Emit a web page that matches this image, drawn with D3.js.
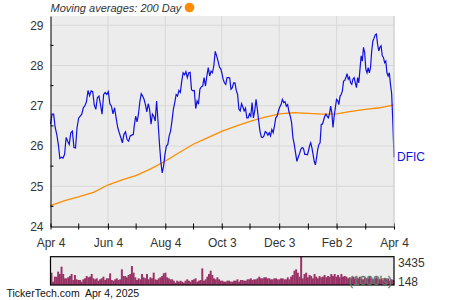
<!DOCTYPE html>
<html>
<head>
<meta charset="utf-8">
<script src="https://cdn.jsdelivr.net/npm/d3@7"></script>
<style>
  body { margin: 0; background: #fff; }
  svg { display: block; font-family: "Liberation Sans", Arial, sans-serif; }
</style>
</head>
<body>
<div id="chart"></div>
<script>
// DFIC daily closes, one array per quarter
const q2_2024 = [26.54, 26.79, 26.79, 26.46, 26.29, 26.04, 25.69, 25.72, 25.70, 25.79,
  26.21, 26.12, 26.04, 26.33, 26.37, 25.96, 25.95, 26.46, 26.69, 26.74,
  26.79, 26.95, 27.0, 27.1, 27.38, 27.25, 27.37, 27.35, 27.02, 26.91,
  27.2, 27.24, 27.03, 26.79, 27.28, 27.33, 27.28, 27.35, 27.05, 26.99,
  26.8, 26.95, 26.7, 26.46, 26.33, 26.21, 26.08, 26.29, 26.35, 26.16,
  26.12, 26.25, 26.27, 26.29];
const q3_2024 = [26.5, 26.74, 26.6, 26.79, 27.1, 27.3, 27.24, 27.16, 27.03, 26.85,
  27.05, 26.91, 26.54, 26.79, 26.74, 26.62, 27.12, 26.62, 26.08, 25.62,
  25.33, 25.5, 25.79, 26.0, 26.04, 26.25, 26.37, 26.62, 26.91, 27.08,
  27.28, 27.24, 27.38, 27.33, 27.61, 27.82, 27.77, 27.85, 27.7, 27.82,
  27.83, 27.4, 27.37, 27.38, 26.93, 27.12, 27.04, 27.41, 27.47, 27.49,
  27.7, 27.49, 27.74, 27.95, 27.74, 27.86, 27.82, 28.0, 28.35, 28.24,
  28.11, 27.96, 27.91];
const q4_2024 = [27.82, 27.66, 27.57, 27.53, 27.7, 27.7, 27.69, 27.41, 27.45,
  27.57, 27.57, 27.38, 27.28, 26.91, 26.87, 27.05, 26.97, 26.87, 26.94,
  26.7, 26.7, 26.8, 26.74, 27.08, 26.7, 26.87, 27.16, 26.91, 26.62,
  26.37, 26.22, 26.21, 26.25, 26.36, 26.33, 26.27, 26.33, 26.25, 26.41,
  26.33, 26.5, 26.7, 26.74, 26.87, 26.97, 27.03, 27.16, 27.08, 27.1,
  26.99, 27.03, 26.85, 26.74, 26.58, 26.21, 26.04, 25.83, 25.62, 25.72,
  25.81, 25.92, 25.96, 25.94, 25.79, 25.79, 25.78];
const q1_2025 = [25.87, 26.0, 26.08, 25.96, 25.79, 25.62, 25.53, 25.71, 25.92, 26.04,
  26.08, 26.54, 26.54, 26.64, 26.74, 26.79, 26.74, 26.7, 26.79, 26.99,
  26.83, 26.46, 26.74, 26.95, 27.16, 27.13, 27.03, 27.24, 27.28, 27.37,
  27.61, 27.63, 27.7, 27.8, 27.66, 27.71, 27.57, 27.53, 27.66, 27.7,
  27.57, 27.45, 27.7, 27.57, 27.91, 28.24, 28.11, 28.45, 28.32, 27.91,
  27.82, 27.95, 27.82, 27.95, 28.36, 28.61, 28.68, 28.76, 28.78, 28.53,
  28.36, 28.45, 28.49, 28.24, 28.2, 28.07, 28.11, 27.82, 27.74, 27.82,
  27.53, 27.3, 26.6, 25.72];
const quarterSpans = [["2024-04-04", "2024-07-01"], ["2024-07-02", "2024-10-02"],
  ["2024-10-03", "2025-01-02"], ["2025-01-03", "2025-04-04"]];

// 200 day moving average, read about every 15 days
const ma200 = [24.52, 24.64, 24.74, 24.85, 25.03, 25.16, 25.27, 25.43, 25.62, 25.84,
  26.05, 26.21, 26.37, 26.5, 26.62, 26.72, 26.8, 26.83, 26.81, 26.79,
  26.8, 26.86, 26.91, 26.95, 27.02];

// volume in 1000's
const volume = [1580, 535, 1115, 1115, 1700, 1425, 2275, 1425, 920, 920,
  1040, 1190, 1425, 730, 1310, 805, 730, 730, 535, 805,
  920, 1190, 1040, 1115, 1425, 920, 805, 920, 650, 805,
  920, 1115, 730, 920, 920, 1500, 730, 650, 805, 920,
  730, 805, 1965, 1190, 1190, 1040, 1310, 1425, 2355, 1580,
  1040, 730, 920, 805, 1425, 1040, 920, 1425, 805, 1040,
  920, 1580, 805, 730, 920, 1040, 1190, 1500, 1580, 1040,
  920, 805, 805, 650, 420, 650, 535, 650, 535, 420,
  650, 805, 650, 535, 730, 805, 920, 535, 650, 730,
  2080, 650, 805, 1115, 1425, 1810, 1310, 920, 805, 1040,
  805,
  650, 650, 535, 535, 650, 650, 535, 535, 650, 650,
  805, 535, 730, 730, 650, 650, 805, 805, 920, 730,
  805, 805, 920, 1115, 920, 920, 1040, 1040, 920, 920,
  805, 805, 920, 920, 805, 805, 920, 920, 805, 805,
  1040, 805, 1115, 1310, 1810, 1965, 1580, 1115, 3435, 920,
  1425, 1580, 1040, 1310, 1190, 920, 1425, 1115, 920, 1190,
  1040, 1115, 1310, 1040, 1190, 1115, 1425, 1190, 1425, 1115,
  1310, 1040, 1425, 1115, 1190, 1115, 920, 1040, 920, 1115,
  920, 1040, 920, 1115, 920, 805, 1040, 920, 920, 1115,
  920, 805, 920, 1040, 920, 805, 920, 730, 920, 805,
  920, 650, 805, 730];

const majorTicks = ["2024-04-04", "2024-06-04", "2024-08-04", "2024-10-03", "2024-12-03", "2025-02-02", "2025-04-04"];
const tickLabels = ["Apr 4", "Jun 4", "Aug 4", "Oct 3", "Dec 3", "Feb 2", "Apr 4"];
const minorTicks = ["2024-05-04", "2024-07-04", "2024-09-03", "2024-11-02", "2025-01-03", "2025-03-05"];
const priceTicks = [24, 25, 26, 27, 28, 29];
const halfTicks = [24.5, 25.5, 26.5, 27.5, 28.5];
const volLabels = [3435, 148];

const width = 450, height = 300;
const margin = {left: 50.5, right: 56, top: 16, bottom: 73.5};
const parse = d3.timeParse("%Y-%m-%d");

const svg = d3.select("#chart").append("svg")
  .attr("width", width)
  .attr("height", height);

const x = d3.scaleTime()
  .domain([parse("2024-04-04"), parse("2025-04-04")])
  .range([margin.left, width - margin.right]);
const y = d3.scaleLinear()
  .domain([24, 29.23])
  .range([height - margin.bottom, margin.top]);

// put each quarter's closes evenly across its dates
const prices = [];
[q2_2024, q3_2024, q4_2024, q1_2025].forEach((q, k) => {
  const t0 = parse(quarterSpans[k][0]), t1 = parse(quarterSpans[k][1]);
  const tq = d3.scaleLinear().domain([0, q.length - 1]).range([t0, t1]);
  q.forEach((v, i) => prices.push({date: new Date(tq(i)), value: v}));
});
const maIdx = d3.scaleLinear().domain([0, ma200.length - 1]).range(x.domain());

// plot background
svg.append("rect")
  .attr("x", margin.left).attr("y", margin.top)
  .attr("width", width - margin.right - margin.left)
  .attr("height", height - margin.bottom - margin.top)
  .attr("fill", "#ececec");

// grid
svg.append("g").selectAll("line")
  .data(priceTicks.slice(1))
  .join("line")
  .attr("x1", margin.left).attr("x2", width - margin.right)
  .attr("y1", d => y(d)).attr("y2", d => y(d))
  .attr("stroke", "#d8d8d8");
svg.append("g").selectAll("line")
  .data(majorTicks.slice(1))
  .join("line")
  .attr("x1", d => x(parse(d))).attr("x2", d => x(parse(d)))
  .attr("y1", margin.top).attr("y2", height - margin.bottom)
  .attr("stroke", "#d8d8d8");

// moving average
svg.append("path")
  .datum(ma200)
  .attr("fill", "none")
  .attr("stroke", "#ff8c00")
  .attr("stroke-width", 1.3)
  .attr("d", d3.line().x((d, i) => x(maIdx(i))).y(d => y(d)));

// price line
svg.append("path")
  .datum(prices)
  .attr("fill", "none")
  .attr("stroke", "#1010e0")
  .attr("stroke-width", 1.2)
  .attr("d", d3.line().x(d => x(d.date)).y(d => y(d.value)));

// y axis
svg.append("g")
  .attr("transform", `translate(${margin.left},0)`)
  .call(d3.axisLeft(y).tickValues(priceTicks).tickFormat(d3.format("d")).tickSize(0).tickPadding(7))
  .call(g => g.select(".domain").attr("stroke", "#000"))
  .selectAll("text")
  .attr("font-size", "12px")
  .attr("fill", "#333");
svg.append("g").selectAll("line")
  .data(halfTicks)
  .join("line")
  .attr("x1", margin.left).attr("x2", margin.left + 3)
  .attr("y1", d => y(d)).attr("y2", d => y(d))
  .attr("stroke", "#000");

// x axis
const xAxis = svg.append("g")
  .attr("transform", `translate(0,${height - margin.bottom})`)
  .call(d3.axisBottom(x)
    .tickValues(majorTicks.map(parse))
    .tickFormat((d, i) => tickLabels[i])
    .tickSizeInner(3).tickSizeOuter(0).tickPadding(9));
xAxis.select(".domain").attr("stroke", "#000");
xAxis.selectAll(".tick line").attr("y1", -3);
xAxis.selectAll("text").attr("font-size", "12px").attr("fill", "#333");
xAxis.selectAll(".minor")
  .data(minorTicks)
  .join("line")
  .attr("class", "minor")
  .attr("x1", d => x(parse(d))).attr("x2", d => x(parse(d)))
  .attr("y1", -3).attr("y2", 3)
  .attr("stroke", "#000");

// right edge
svg.append("line")
  .attr("x1", width - margin.right).attr("x2", width - margin.right)
  .attr("y1", margin.top).attr("y2", height - margin.bottom)
  .attr("stroke", "#d0d0d0");

// ticker label
svg.append("text")
  .attr("x", width - margin.right + 3)
  .attr("y", y(prices[prices.length - 1].value) + 4)
  .attr("font-size", "12px")
  .attr("fill", "#1010e0")
  .text("DFIC");

// legend
svg.append("text")
  .attr("x", margin.left)
  .attr("y", 11.5)
  .attr("font-size", "11px")
  .attr("font-style", "italic")
  .attr("fill", "#333")
  .text("Moving averages: 200 Day");
svg.append("circle")
  .attr("cx", 189.5).attr("cy", 7.5).attr("r", 4.8)
  .attr("fill", "#ff8c00");

// volume panel
const vTop = 256.7, vBottom = 285;
const xv = d3.scaleBand()
  .domain(d3.range(volume.length))
  .range([margin.left, width - margin.right])
  .padding(0);
const yv = d3.scaleLinear().domain([148, 3435]).range([vBottom, vTop]);

svg.append("rect")
  .attr("x", margin.left).attr("y", vTop)
  .attr("width", width - margin.right - margin.left)
  .attr("height", vBottom - vTop)
  .attr("fill", "#ececec");
svg.append("g").selectAll("rect")
  .data(volume)
  .join("rect")
  .attr("x", (d, i) => xv(i))
  .attr("width", xv.bandwidth() + 0.3)
  .attr("y", d => yv(d))
  .attr("height", d => vBottom - yv(d))
  .attr("fill", "#993366");
svg.append("rect")
  .attr("x", margin.left).attr("y", vTop)
  .attr("width", width - margin.right - margin.left)
  .attr("height", vBottom - vTop)
  .attr("fill", "none")
  .attr("stroke", "#000")
  .attr("stroke-width", 1.2);

svg.append("text")
  .attr("x", width - margin.right - 2)
  .attr("y", 285)
  .attr("text-anchor", "end")
  .attr("font-size", "12px")
  .attr("fill", "#6a8a7a")
  .attr("stroke", "#4a6a5a")
  .attr("stroke-width", 0.3)
  .text("(1000's)");

svg.append("g").selectAll("text")
  .data(volLabels)
  .join("text")
  .attr("x", width - margin.right + 4)
  .attr("y", d => d === 148 ? 286 : 266.5)
  .attr("font-size", "12px")
  .attr("fill", "#333")
  .text(d => d);

// footer
svg.append("text")
  .attr("x", 6.5)
  .attr("y", 297)
  .attr("font-size", "10.5px")
  .attr("fill", "#111")
  .style("white-space", "pre")
  .text("TickerTech.com  Apr 4, 2025");
</script>
</body>
</html>
